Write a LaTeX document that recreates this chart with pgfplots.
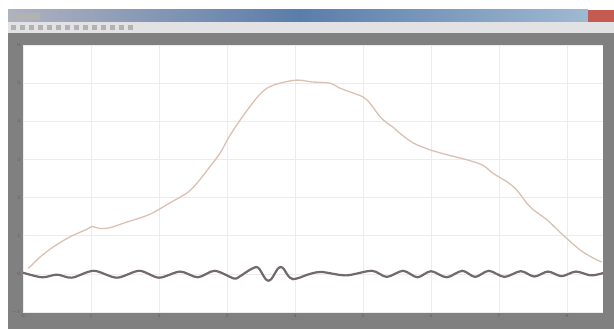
\documentclass[border=0pt]{standalone}
\usepackage{pgfplots}
\pgfplotsset{compat=1.18}
\definecolor{framec}{RGB}{128,128,128}
\definecolor{toolc}{RGB}{226,226,228}
\definecolor{tbL}{RGB}{175,178,192}
\definecolor{tbM}{RGB}{90,125,170}
\definecolor{tbR}{RGB}{160,185,210}
\definecolor{closec}{RGB}{196,90,80}
\definecolor{gridc}{RGB}{236,236,238}
\definecolor{lblc}{RGB}{95,95,95}
\definecolor{refc}{RGB}{220,192,180}
\definecolor{errc}{RGB}{115,105,105}
\begin{document}
\begin{tikzpicture}[x=1bp,y=1bp]
\fill[white] (0,0) rectangle (614,329);
\fill[framec] (8,0) rectangle (614,296);
\fill[toolc] (8,296) rectangle (614,307);
\shade[left color=tbL, right color=tbM] (8,307) rectangle (300,319);
\shade[left color=tbM, right color=tbR] (300,307) rectangle (588,319);
\fill[closec] (588,307) rectangle (614,319);
\foreach \i in {0,...,13} {\fill[gray!60] (11+\i*9,299) rectangle (16+\i*9,304);}
\fill[gray!60!white] (12,309) rectangle (40,316);
\fill[white] (23,17) rectangle (603,284);
\begin{axis}[
  at={(23bp,17bp)}, anchor=south west,
  scale only axis, width=580bp, height=267bp,
  xmin=0, xmax=8.53, ymin=-1, ymax=6,
  xtick={0,...,8}, ytick={-1,...,6},
  grid=major, major grid style={draw=gridc, line width=0.6bp},
  axis line style={draw=none},
  tick style={draw=none},
  ticklabel style={font=\fontsize{4}{4}\selectfont, text=lblc},
  xticklabel style={yshift=1bp},
  yticklabel style={xshift=1bp},
  clip=true,
]
\addplot[refc, line width=1.3bp, smooth] coordinates {
(0.07,0.15)(0.10,0.18)(0.25,0.44)(0.44,0.70)(0.69,0.97)(0.94,1.17)(1.02,1.24)
(1.13,1.19)(1.28,1.21)(1.53,1.36)(1.76,1.49)(1.91,1.60)(2.16,1.86)(2.41,2.12)
(2.56,2.38)(2.71,2.72)(2.90,3.17)(3.04,3.62)(3.24,4.15)(3.44,4.62)(3.59,4.87)
(3.78,5.00)(4.03,5.08)(4.26,5.03)(4.51,5.00)(4.66,4.87)(4.81,4.77)(5.00,4.64)
(5.10,4.48)(5.25,4.12)(5.35,3.96)(5.44,3.85)(5.54,3.69)(5.74,3.43)(5.99,3.25)
(6.24,3.12)(6.53,2.99)(6.76,2.85)(6.91,2.64)(7.12,2.41)(7.26,2.20)(7.46,1.75)
(7.71,1.41)(7.94,1.02)(8.19,0.63)(8.38,0.42)(8.51,0.31)
};
\addplot[errc, line width=2.2bp, smooth] coordinates {
(0.00,0.03)(0.28,-0.09)(0.50,-0.02)(0.72,-0.10)(1.04,0.08)(1.38,-0.10)(1.71,0.08)
(2.00,-0.10)(2.31,0.06)(2.57,-0.09)(2.82,0.08)(3.10,-0.12)(3.185,-0.07)(3.27,0.03)
(3.35,0.12)(3.43,0.18)(3.475,0.13)(3.52,0.00)(3.565,-0.13)(3.61,-0.18)(3.655,-0.13)
(3.70,0.00)(3.745,0.13)(3.79,0.18)(3.835,0.13)(3.88,0.00)(3.925,-0.10)(3.97,-0.14)
(4.07,-0.10)(4.17,-0.03)
(4.38,0.05)(4.75,-0.04)(5.13,0.08)(5.35,-0.08)(5.59,0.08)
(5.80,-0.09)(6.00,0.07)(6.23,-0.09)(6.46,0.08)(6.65,-0.08)(6.85,0.08)(7.08,-0.08)
(7.32,0.07)(7.52,-0.07)(7.72,0.06)(7.92,-0.06)(8.13,0.06)(8.35,-0.04)(8.53,0.02)
};
\end{axis}
\end{tikzpicture}
\end{document}
